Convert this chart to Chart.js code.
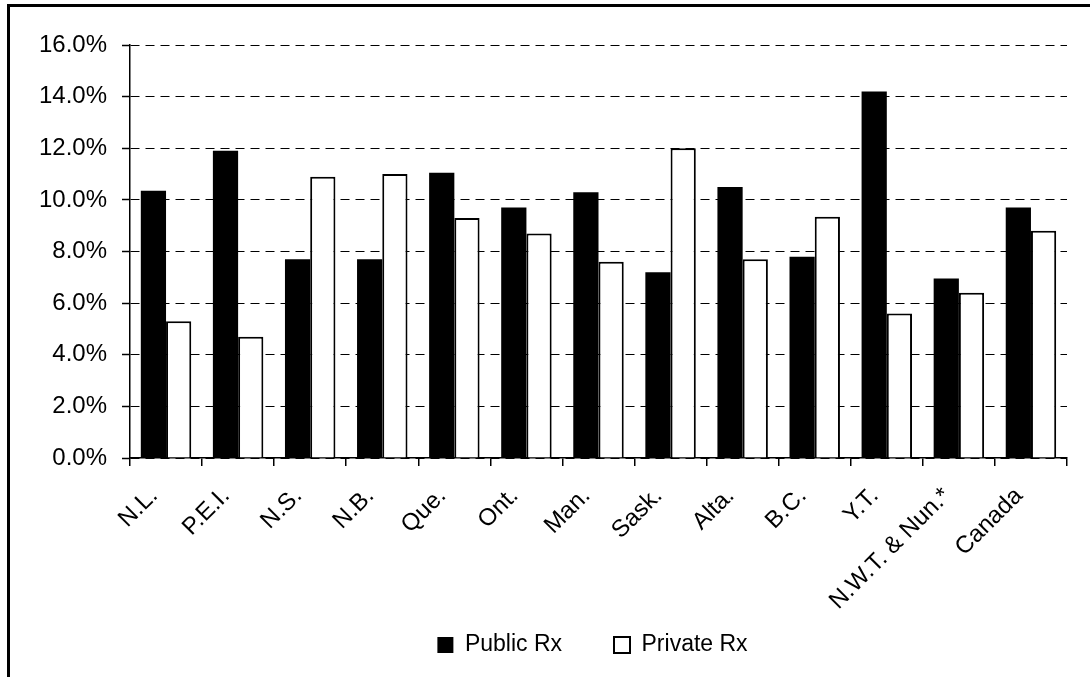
<!DOCTYPE html>
<html>
<head>
<meta charset="utf-8">
<script src="https://cdn.jsdelivr.net/npm/chart.js@4.4.1/dist/chart.umd.min.js"></script>
<style>
  html, body { margin: 0; padding: 0; background: #fff; overflow: hidden; }
  #frame {
    position: absolute; left: 7px; top: 4px;
    width: 1200px; height: 800px;
    border-top: 3px solid #000; border-left: 3px solid #000;
  }
  #wrap { position: absolute; left: 0; top: 0; width: 1090px; height: 677px; }
</style>
</head>
<body>
<div id="frame"></div>
<div id="wrap"><canvas id="rxChart"></canvas></div>
<script>
// Categories and series (percent)
const provinces = ['N.L.', 'P.E.I.', 'N.S.', 'N.B.', 'Que.', 'Ont.', 'Man.', 'Sask.', 'Alta.', 'B.C.', 'Y.T.', 'N.W.T. & Nun.*', 'Canada'];
const publicRx  = [10.35, 11.9, 7.7, 7.7, 11.05, 9.7, 10.3, 7.2, 10.5, 7.8, 14.2, 6.95, 9.7];
const privateRx = [5.3, 4.7, 10.9, 11.0, 9.3, 8.7, 7.6, 12.0, 7.7, 9.35, 5.6, 6.4, 8.8];
const seriesNames = ['Public Rx', 'Private Rx'];
const yMin = 0, yMax = 16, yStep = 2;

const FAMILY = '"Liberation Sans", Arial, sans-serif';
const TICK_FONT = { family: FAMILY, size: 24 };
const LEGEND_FONT = { family: FAMILY, size: 23 };
const LEGEND_GAP = 52;
Chart.defaults.color = '#000';
Chart.defaults.font = TICK_FONT;

// legend row sits just under the long rotated labels, so move it there
// and let the x labels draw past the short x box
const legendShift = {
  id: 'legendShift',
  afterLayout(chart) {
    const lg = chart.legend;
    const dy = lg.top + LEGEND_GAP + LEGEND_FONT.size / 2 - 645;
    lg.top -= dy;
    lg.bottom -= dy;
    lg.left += 59;
    lg.right += 59;
    chart.scales.x.bottom = 640;
  }
};

new Chart(document.getElementById('rxChart'), {
  type: 'bar',
  data: {
    labels: provinces,
    datasets: [{
      label: seriesNames[0],
      data: publicRx,
      backgroundColor: '#000',
      borderColor: '#000',
      borderWidth: 0
    }, {
      label: seriesNames[1],
      data: privateRx,
      backgroundColor: '#fff',
      borderColor: '#000',
      borderWidth: 2
    }]
  },
  options: {
    responsive: true,
    maintainAspectRatio: false,
    animation: false,
    datasets: { bar: { categoryPercentage: 0.7, barPercentage: 1.0 } },
    layout: { padding: { left: 0, right: 23, top: 45, bottom: 0 } },
    plugins: {
      tooltip: { enabled: false },
      legend: {
        position: 'bottom',
        labels: { boxWidth: 16, boxHeight: 16, padding: LEGEND_GAP, font: LEGEND_FONT, color: '#000' }
      }
    },
    scales: {
      x: {
        grid: { drawOnChartArea: false, drawTicks: true, tickLength: 8, color: '#000', lineWidth: 1.5 },
        border: { color: '#000', width: 1.5 },
        ticks: { minRotation: 45, maxRotation: 45, autoSkip: false, padding: 16, labelOffset: -12, font: TICK_FONT },
        afterFit(scale) { scale.height = 134; }
      },
      y: {
        min: yMin,
        max: yMax,
        grid: { color: '#000', lineWidth: 1, tickLength: 8, tickWidth: 1.5, tickBorderDash: [] },
        border: { color: '#000', width: 1.5, dash: [9, 6] },
        ticks: {
          stepSize: yStep,
          padding: 15,
          font: TICK_FONT,
          callback: v => v.toFixed(1) + '%'
        },
        afterFit(scale) { scale.width = 130; }
      }
    }
  },
  plugins: [legendShift]
});
</script>
</body>
</html>
